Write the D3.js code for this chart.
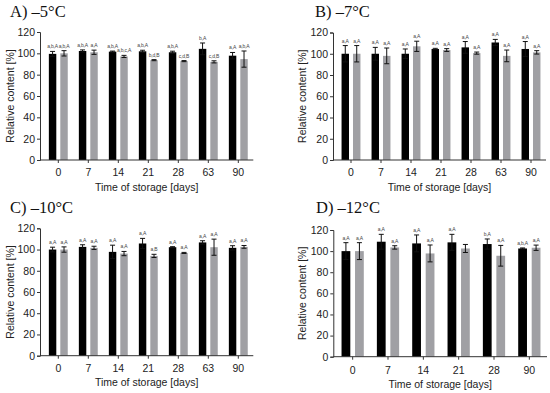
<!DOCTYPE html>
<html><head><meta charset="utf-8">
<script src="https://cdn.jsdelivr.net/npm/d3@7"></script>
<style>body{margin:0;background:#fff}svg{display:block}</style>
</head><body>
<svg id="c" width="550" height="393"></svg>
<script>
// ---------- data ----------
const titles = ["A) \u20135\u00b0C", "B) \u20137\u00b0C", "C) \u201310\u00b0C", "D) \u201312\u00b0C"];
const daysABC = ["0","7","14","21","28","63","90"];
const daysD   = ["0","7","14","21","28","90"];
const yTicks = [0,20,40,60,80,100,120];

const blackA = [99.5,102.2,101.6,101.9,101.0,104.2,97.8];
const blackAerr = [2.3,1.0,0.5,1.0,1.0,5.5,3.0];
const grayA  = [100.0,101.0,97.1,93.6,92.7,92.0,94.6];
const grayAerr = [2.5,2.0,1.0,0.5,0.5,1.0,7.6];
const blackAlab = ["a,b,A","a,b,A","a,b,A","a,b,A","a,b,A","b,A","a,A"];
const grayAlab  = ["a,b,A","a,A","a,b,c,A","b,d,B","c,d,B","c,d,B","a,b,A"];

const blackB = [100.0,100.0,100.0,104.5,106.0,110.6,104.5];
const blackBerr = [7.7,6.0,4.5,0.6,5.5,2.9,7.0];
const grayB  = [100.0,98.0,107.0,103.5,100.6,98.0,101.3];
const grayBerr = [7.7,7.4,4.8,1.3,1.0,5.5,1.6];
const blackBlab = ["a,A","a,A","a,A","a,A","a,A","a,A","a,A"];
const grayBlab  = ["a,A","a,A","a,A","a,A","a,A","a,A","a,A"];

const blackC = [100.0,102.5,97.8,105.7,102.2,106.7,101.6];
const blackCerr = [2.2,2.0,6.3,4.8,0.5,1.6,2.0];
const grayC  = [100.0,101.6,96.2,94.0,96.8,102.2,102.5];
const grayCerr = [2.5,1.5,2.0,1.5,0.5,7.6,1.3];
const blackClab = ["a,A","a,A","a,A","a,A","a,A","a,A","a,A"];
const grayClab  = ["a,A","a,A","a,A","a,B","a,A","a,A","a,A"];

const blackD = [100.0,108.9,107.3,108.3,106.7,102.5];
const blackDerr = [8.0,7.0,8.0,7.6,4.8,0.5];
const grayD  = [100.0,103.5,97.8,102.5,95.6,103.2];
const grayDerr = [8.0,1.6,8.0,3.8,9.8,2.5];
const blackDlab = ["a,A","a,A","a,A","a,A","b,A","a,b,A"];
const grayDlab  = ["a,A","a,A","a,A","","a,A","a,A"];

const panels = [
  {title:titles[0], cats:daysABC, bv:blackA, be:blackAerr, gv:grayA, ge:grayAerr, bl:blackAlab, gl:grayAlab,
   ax:40, y0:160, y1:32, r0:43.3, r1:253.3, tx:10, ty:17, tickY:175.5, titleY:190.5, ytX:10},
  {title:titles[1], cats:daysABC, bv:blackB, be:blackBerr, gv:grayB, ge:grayBerr, bl:blackBlab, gl:grayBlab,
   ax:333, y0:160, y1:32.5, r0:336, r1:546, tx:315, ty:17, tickY:175.5, titleY:190.5, ytX:302},
  {title:titles[2], cats:daysABC, bv:blackC, be:blackCerr, gv:grayC, ge:grayCerr, bl:blackClab, gl:grayClab,
   ax:40, y0:355.7, y1:228.3, r0:43.3, r1:253.3, tx:10, ty:213, tickY:372, titleY:386, ytX:10},
  {title:titles[3], cats:daysD, bv:blackD, be:blackDerr, gv:grayD, ge:grayDerr, bl:blackDlab, gl:grayDlab,
   ax:333.3, y0:356.7, y1:230, r0:335, r1:547, tx:316, ty:213, tickY:374, titleY:387.5, ytX:302}
];

const svg = d3.select("#c");
const axisColor = "#333";
const sans = "Liberation Sans, Arial, sans-serif";

panels.forEach(p => {
  const g = svg.append("g");
  const y = d3.scaleLinear().domain([0,120]).range([p.y0, p.y1]);
  const x0 = d3.scaleBand().domain(p.cats).range([p.r0, p.r1]).paddingInner(0.37).paddingOuter(0.185);
  const x1 = d3.scaleBand().domain(["b","g"]).range([0, x0.bandwidth()]).paddingInner(0.35);

  // title
  g.append("text").attr("x", p.tx).attr("y", p.ty)
    .attr("font-family", "Liberation Serif, 'DejaVu Serif', serif").attr("font-size", 16.5)
    .attr("fill", "#111").text(p.title);

  // bars
  const series = [
    {k:"b", v:p.bv, e:p.be, l:p.bl, c:"#000000"},
    {k:"g", v:p.gv, e:p.ge, l:p.gl, c:"#a0a0a4"}
  ];
  series.forEach(s => {
    const bx = i => x0(p.cats[i]) + x1(s.k);
    const bw = x1.bandwidth();
    g.selectAll(null).data(s.v).enter().append("rect")
      .attr("x", (d,i) => bx(i)).attr("width", bw)
      .attr("y", d => y(d)).attr("height", d => y(0) - y(d))
      .attr("fill", s.c);
    // error bars
    s.v.forEach((v,i) => {
      const cx = bx(i) + bw/2;
      const e = s.e[i];
      const eg = g.append("g").attr("stroke", "#111").attr("stroke-width", 1);
      eg.append("line").attr("x1", cx).attr("x2", cx).attr("y1", y(v+e)).attr("y2", y(v-e));
      eg.append("line").attr("x1", cx-2.5).attr("x2", cx+2.5).attr("y1", y(v+e)).attr("y2", y(v+e));
      eg.append("line").attr("x1", cx-2.5).attr("x2", cx+2.5).attr("y1", y(v-e)).attr("y2", y(v-e));
      if (s.l[i]) {
        g.append("text").attr("x", cx).attr("y", y(v+e) - 3)
          .attr("text-anchor", "middle").attr("font-family", sans)
          .attr("font-size", 5).attr("letter-spacing", -0.2).attr("fill", "#444").text(s.l[i]);
      }
    });
  });

  // y axis
  const ya = g.append("g").attr("transform", `translate(${p.ax},0)`)
    .call(d3.axisLeft(y).tickValues(yTicks).tickSize(3).tickPadding(2));
  ya.select(".domain").attr("stroke", axisColor);
  ya.selectAll(".tick line").attr("stroke", axisColor);
  ya.selectAll(".tick text").attr("font-family", sans).attr("font-size", 10.5).attr("fill", "#222");

  // x axis
  const xa = g.append("g").attr("transform", `translate(0,${p.y0})`)
    .call(d3.axisBottom(x0).tickSize(3).tickSizeOuter(0).tickPadding(3));
  xa.select(".domain").attr("stroke", axisColor).attr("d", `M${p.ax},0H${p.r1}`);
  xa.selectAll(".tick line").attr("stroke", axisColor);
  xa.selectAll(".tick text").remove();
  g.selectAll(null).data(p.cats).enter().append("text")
    .attr("x", d => x0(d) + x0.bandwidth()/2).attr("y", p.tickY)
    .attr("text-anchor", "middle").attr("font-family", sans).attr("font-size", 10.5)
    .attr("fill", "#222").text(d => d);

  // axis titles
  g.append("text").attr("x", (p.ax + p.r1)/2).attr("y", p.titleY)
    .attr("text-anchor", "middle").attr("font-family", sans).attr("font-size", 10.5)
    .attr("fill", "#222").text("Time of storage [days]");
  g.append("text").attr("transform", `translate(${p.ytX},${(p.y0+p.y1)/2}) rotate(-90)`)
    .attr("text-anchor", "middle").attr("dominant-baseline", "central")
    .attr("font-family", sans).attr("font-size", 10.5).attr("fill", "#222")
    .text("Relative content [%]");
});
</script>
</body></html>
